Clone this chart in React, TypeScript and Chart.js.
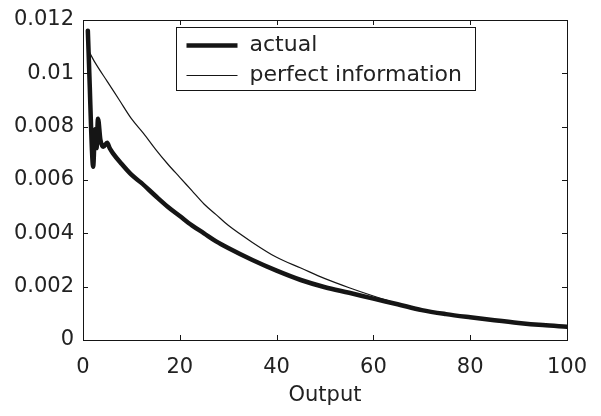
import React, { useEffect, useRef } from 'react';
import { Chart, registerables } from 'chart.js';

Chart.register(...registerables);

// ---- data ----
const actualX = [1, 1.4, 1.7, 2.1, 2.5, 2.8, 3.1, 3.6, 4.2, 5.0, 5.5, 6.2, 8, 10, 12, 15, 17.5, 20, 22.5, 25, 27.5, 30, 35, 40, 45, 50, 55, 60, 65, 70, 75, 80, 85, 90, 95, 100];
const actualY = [0.0116, 0.0095, 0.0078, 0.0065, 0.0079, 0.0072, 0.0083, 0.0075, 0.00725, 0.0074, 0.0072, 0.0070, 0.0066, 0.0062, 0.0059, 0.0054, 0.0050, 0.00465, 0.0043, 0.0040, 0.0037, 0.00345, 0.0030, 0.0026, 0.00225, 0.00198, 0.00177, 0.00155, 0.00134, 0.00112, 0.00097, 0.00085, 0.00074, 0.00064, 0.00056, 0.0005];

const perfectX = [1, 2.5, 5, 7.5, 10, 12.5, 15, 17.5, 20, 22.5, 25, 27.5, 30, 35, 40, 45, 50, 55, 60, 65, 70, 75, 80, 85, 90, 95, 100];
const perfectY = [0.0109, 0.0104, 0.0097, 0.0090, 0.0083, 0.00775, 0.00715, 0.0066, 0.0061, 0.0056, 0.0051, 0.0047, 0.0043, 0.00366, 0.0031, 0.0027, 0.0023, 0.00196, 0.00165, 0.00137, 0.00113, 0.00097, 0.00085, 0.00074, 0.00064, 0.00056, 0.0005];

const xTicks = [0, 20, 40, 60, 80, 100];
const yTicks = [0, 0.002, 0.004, 0.006, 0.008, 0.01, 0.012];
const yTickLabels = ['0', '0.002', '0.004', '0.006', '0.008', '0.01', '0.012'];
const seriesNames = ['actual', 'perfect information'];
const xTitle = 'Output';

const INK = '#151515';
const TEXT = '#222222';
const FONT = 'DejaVu Sans';

const framePlugin = {
  id: 'frameAndLegend',
  afterDraw(chart: any) {
    const ctx = chart.ctx;
    const { left, right, top, bottom } = chart.chartArea;
    const xs = chart.scales.x;
    const ys = chart.scales.y;
    ctx.save();
    ctx.strokeStyle = INK;
    ctx.lineWidth = 1;
    ctx.strokeRect(Math.round(left) + 0.5, Math.round(top) + 0.5, Math.round(right - left), Math.round(bottom - top));
    const tl = 5;
    ctx.beginPath();
    xTicks.forEach((v) => {
      const px = Math.round(xs.getPixelForValue(v)) + 0.5;
      ctx.moveTo(px, bottom);
      ctx.lineTo(px, bottom - tl);
      ctx.moveTo(px, top);
      ctx.lineTo(px, top + tl);
    });
    yTicks.forEach((v) => {
      const py = Math.round(ys.getPixelForValue(v)) + 0.5;
      ctx.moveTo(left, py);
      ctx.lineTo(left + tl, py);
      ctx.moveTo(right, py);
      ctx.lineTo(right - tl, py);
    });
    ctx.stroke();

    // legend box
    const bx = Math.round(left + 93) + 0.5;
    const by = Math.round(top + 7) + 0.5;
    const bw = 299;
    const bh = 63;
    ctx.fillStyle = '#ffffff';
    ctx.fillRect(bx, by, bw, bh);
    ctx.strokeStyle = INK;
    ctx.lineWidth = 1;
    ctx.strokeRect(bx, by, bw, bh);
    const rows = [
      { name: seriesNames[0], lw: 4.5, dy: 18 },
      { name: seriesNames[1], lw: 1.2, dy: 48 },
    ];
    ctx.font = `22px "${FONT}"`;
    ctx.textBaseline = 'middle';
    ctx.textAlign = 'left';
    rows.forEach((r) => {
      ctx.beginPath();
      ctx.lineWidth = r.lw;
      ctx.strokeStyle = INK;
      ctx.moveTo(bx + 10, by + r.dy);
      ctx.lineTo(bx + 61, by + r.dy);
      ctx.stroke();
      ctx.fillStyle = TEXT;
      ctx.fillText(r.name, bx + 73, by + r.dy);
    });
    ctx.restore();
  },
};

export default function App() {
  const ref = useRef<HTMLCanvasElement | null>(null);
  useEffect(() => {
    if (!ref.current) return;
    const chart = new Chart(ref.current, {
      type: 'line',
      data: {
        datasets: [
          {
            label: seriesNames[0],
            data: actualX.map((x, i) => ({ x, y: actualY[i] })),
            borderColor: INK,
            borderWidth: 4.5,
            pointRadius: 0,
            cubicInterpolationMode: 'monotone',
            fill: false,
            borderJoinStyle: 'round',
            borderCapStyle: 'round',
          },
          {
            label: seriesNames[1],
            data: perfectX.map((x, i) => ({ x, y: perfectY[i] })),
            borderColor: INK,
            borderWidth: 1.2,
            pointRadius: 0,
            cubicInterpolationMode: 'monotone',
            fill: false,
          },
        ],
      },
      options: {
        animation: false,
        responsive: true,
        maintainAspectRatio: false,
        layout: { padding: { left: 0, right: 26, top: 12, bottom: 0 } },
        plugins: { legend: { display: false }, tooltip: { enabled: false } },
        scales: {
          x: {
            type: 'linear',
            min: 0,
            max: 100,
            grid: { display: false, drawTicks: false },
            border: { display: false },
            afterBuildTicks: (s: any) => {
              s.ticks = xTicks.map((v) => ({ value: v }));
            },
            afterFit: (s: any) => {
              s.height = 68;
              s.paddingLeft = 0;
              s.paddingRight = 0;
            },
            ticks: {
              color: TEXT,
              font: { family: FONT, size: 21 },
              padding: 15,
              maxRotation: 0,
              autoSkip: false,
              callback: (v: any) => String(v),
            },
            title: {
              display: true,
              text: xTitle,
              color: TEXT,
              font: { family: FONT, size: 21 },
              padding: { top: 2, bottom: 0 },
            },
          },
          y: {
            type: 'linear',
            min: 0,
            max: 0.012,
            grid: { display: false, drawTicks: false },
            border: { display: false },
            afterBuildTicks: (s: any) => {
              s.ticks = yTicks.map((v) => ({ value: v }));
            },
            afterFit: (s: any) => {
              s.width = 75;
              s.paddingTop = 0;
              s.paddingBottom = 0;
            },
            ticks: {
              color: TEXT,
              font: { family: FONT, size: 21 },
              padding: 9,
              autoSkip: false,
              callback: (_v: any, i: number) => yTickLabels[i],
            },
          },
        },
      },
      plugins: [framePlugin],
    });
    return () => chart.destroy();
  }, []);
  return (
    <div style={{ position: 'relative', width: 585, height: 400 }}>
      <canvas ref={ref} />
    </div>
  );
}
